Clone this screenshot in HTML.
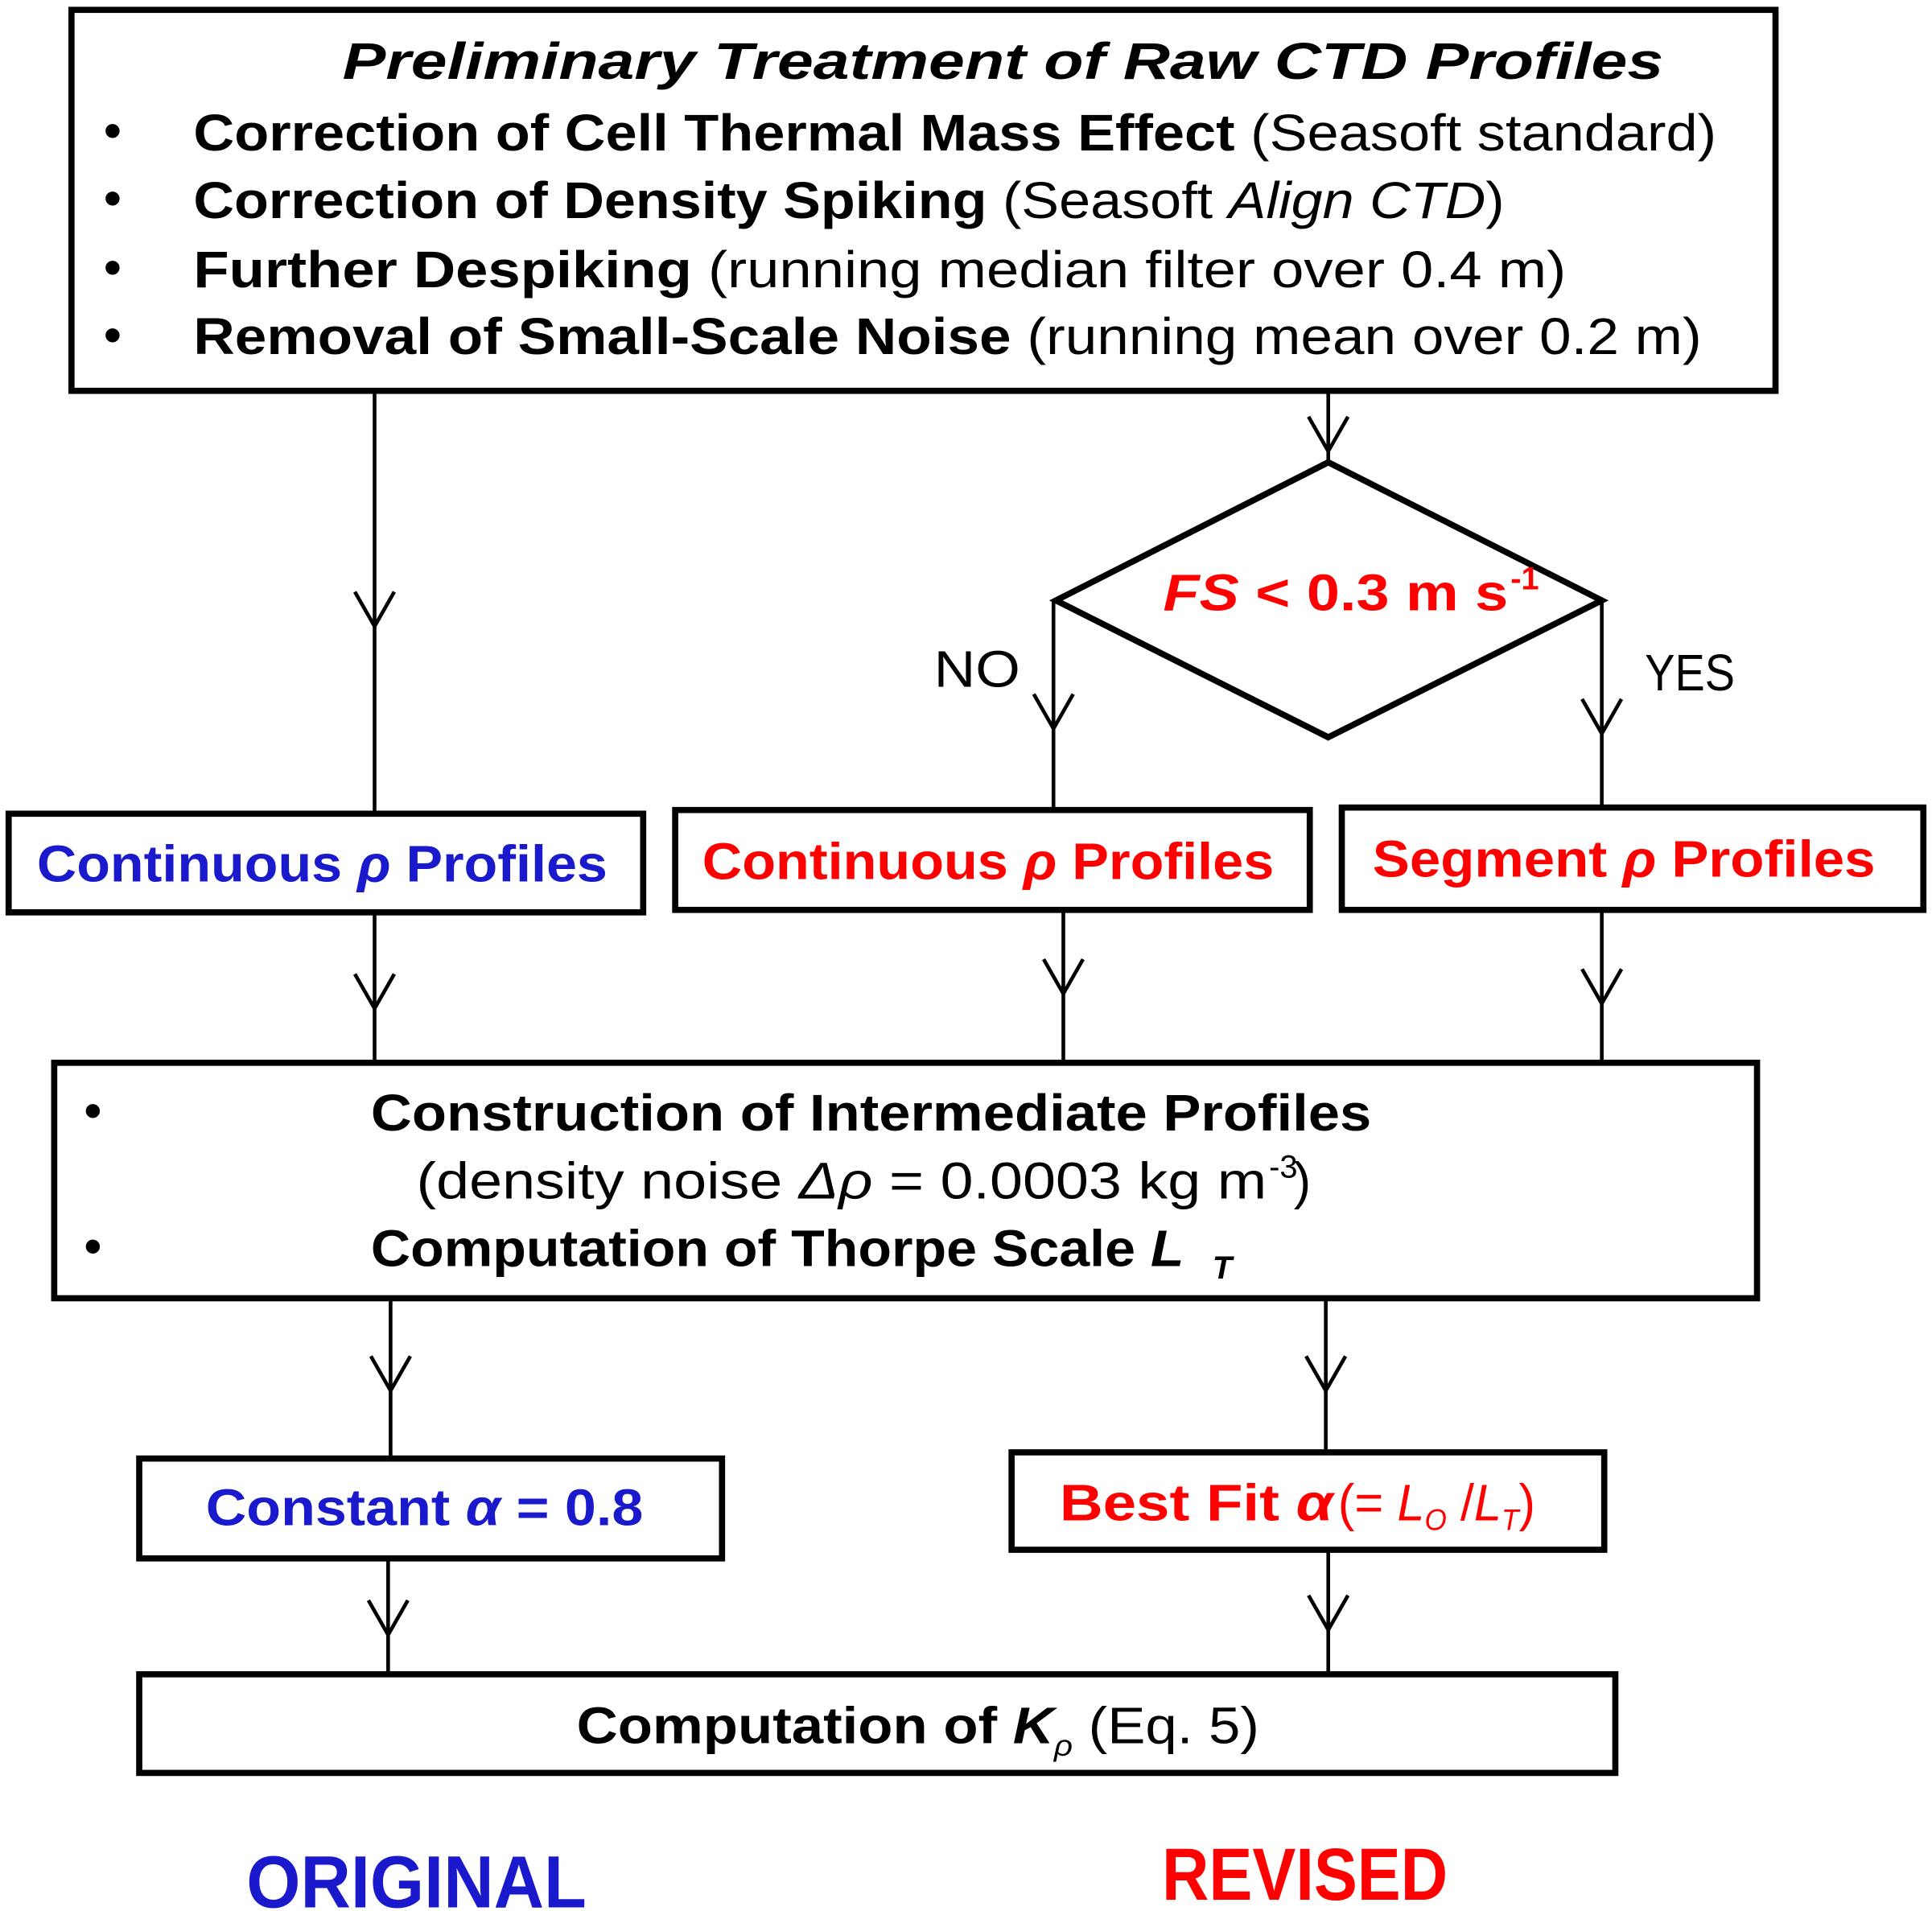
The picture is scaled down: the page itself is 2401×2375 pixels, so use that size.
<!DOCTYPE html>
<html><head><meta charset="utf-8"><style>
html,body{margin:0;padding:0;background:#fff;}
svg{display:block;}
text{font-family:"Liberation Sans",sans-serif;}
</style></head><body>
<svg width="2401" height="2375" viewBox="0 0 1568 1550" preserveAspectRatio="none" xmlns="http://www.w3.org/2000/svg">
<g fill="none" stroke="#000">
<rect x="58" y="8" width="1383" height="309" stroke-width="5"/>
<rect x="7" y="660" width="515" height="80" stroke-width="5"/>
<rect x="548" y="657" width="515" height="81" stroke-width="5"/>
<rect x="1089" y="655" width="472" height="83" stroke-width="5"/>
<rect x="44" y="862" width="1382" height="191" stroke-width="5"/>
<rect x="113" y="1183" width="473" height="81" stroke-width="5"/>
<rect x="821" y="1178" width="481" height="79" stroke-width="5"/>
<rect x="113" y="1358" width="1198" height="80" stroke-width="5"/>
<polygon points="1078,375 1300,487 1078,598 857,487" stroke-width="5"/>
<g stroke-width="3">
<line x1="304" y1="317" x2="304" y2="660"/><polyline points="288,480 304,508 320,480"/>
<line x1="1078" y1="317" x2="1078" y2="375"/><polyline points="1062,338 1078,366 1094,338"/>
<line x1="855" y1="487" x2="855" y2="657"/><polyline points="839,563 855,591 871,563"/>
<line x1="1300" y1="487" x2="1300" y2="655"/><polyline points="1284,567 1300,595 1316,567"/>
<line x1="304" y1="740" x2="304" y2="862"/><polyline points="288,790 304,818 320,790"/>
<line x1="863" y1="738" x2="863" y2="862"/><polyline points="847,778 863,806 879,778"/>
<line x1="1300" y1="738" x2="1300" y2="862"/><polyline points="1284,786 1300,814 1316,786"/>
<line x1="317" y1="1053" x2="317" y2="1183"/><polyline points="301,1100 317,1128 333,1100"/>
<line x1="1076" y1="1053" x2="1076" y2="1178"/><polyline points="1060,1100 1076,1128 1092,1100"/>
<line x1="315" y1="1264" x2="315" y2="1358"/><polyline points="299,1298 315,1326 331,1298"/>
<line x1="1078" y1="1257" x2="1078" y2="1358"/><polyline points="1062,1294 1078,1322 1094,1294"/>
</g>
</g>
<g font-size="42" fill="#000">
<text x="278" y="64" font-style="italic" font-weight="bold" textLength="1072" lengthAdjust="spacingAndGlyphs">Preliminary Treatment of Raw CTD Profiles</text>
<text x="84" y="120">•</text><text x="84" y="175">•</text><text x="84" y="231">•</text><text x="84" y="286">•</text>
<text x="157" y="122" textLength="1236" lengthAdjust="spacingAndGlyphs"><tspan font-weight="bold">Correction of Cell Thermal Mass Effect</tspan> (Seasoft standard)</text>
<text x="157" y="177" textLength="1064" lengthAdjust="spacingAndGlyphs"><tspan font-weight="bold">Correction of Density Spiking</tspan> (Seasoft <tspan font-style="italic">Align CTD</tspan>)</text>
<text x="157" y="233" textLength="1114" lengthAdjust="spacingAndGlyphs"><tspan font-weight="bold">Further Despiking</tspan> (running median filter over 0.4 m)</text>
<text x="157" y="287" textLength="1224" lengthAdjust="spacingAndGlyphs"><tspan font-weight="bold">Removal of Small-Scale Noise</tspan> (running mean over 0.2 m)</text>
<text x="944" y="495" fill="#f00" font-weight="bold" textLength="280" lengthAdjust="spacingAndGlyphs"><tspan font-style="italic">FS</tspan> &lt; 0.3 m s</text>
<text x="1226" y="478" fill="#f00" font-weight="bold" font-size="26">-1</text>
<text x="758" y="557" textLength="70" lengthAdjust="spacingAndGlyphs">NO</text>
<text x="1335" y="560" textLength="73" lengthAdjust="spacingAndGlyphs">YES</text>
<text x="30" y="715" fill="#1a1acc" font-weight="bold" textLength="463" lengthAdjust="spacingAndGlyphs">Continuous <tspan font-style="italic">ρ</tspan> Profiles</text>
<text x="570" y="713" fill="#f00" font-weight="bold" textLength="464" lengthAdjust="spacingAndGlyphs">Continuous <tspan font-style="italic">ρ</tspan> Profiles</text>
<text x="1114" y="711" fill="#f00" font-weight="bold" textLength="408" lengthAdjust="spacingAndGlyphs">Segment <tspan font-style="italic">ρ</tspan> Profiles</text>
<text x="68" y="915">•</text><text x="68" y="1025">•</text>
<text x="301" y="917" font-weight="bold" textLength="812" lengthAdjust="spacingAndGlyphs">Construction of Intermediate Profiles</text>
<text x="338" y="972" textLength="690" lengthAdjust="spacingAndGlyphs">(density noise <tspan font-style="italic">Δρ</tspan> = 0.0003 kg m</text>
<text x="1030" y="955" font-size="26">-3</text><text x="1050" y="972">)</text>
<text x="301" y="1027" font-weight="bold" textLength="660" lengthAdjust="spacingAndGlyphs">Computation of Thorpe Scale <tspan font-style="italic">L</tspan></text>
<text x="984" y="1037" font-size="26" font-style="italic" font-weight="bold">T</text>
<text x="167" y="1237" fill="#1a1acc" font-weight="bold" textLength="355" lengthAdjust="spacingAndGlyphs">Constant <tspan font-style="italic">α</tspan> = 0.8</text>
<text x="860" y="1233" fill="#f00" font-weight="bold" textLength="222" lengthAdjust="spacingAndGlyphs">Best Fit <tspan font-style="italic">α</tspan></text>
<text x="1086" y="1233" fill="#f00" textLength="160" lengthAdjust="spacingAndGlyphs">(= <tspan font-style="italic">L</tspan><tspan font-size="24" dy="8" font-style="italic">O</tspan><tspan dy="-8"> /</tspan><tspan font-style="italic">L</tspan><tspan font-size="24" dy="8" font-style="italic">T</tspan><tspan dy="-8">)</tspan></text>
<text x="468" y="1414" textLength="554" lengthAdjust="spacingAndGlyphs"><tspan font-weight="bold">Computation of </tspan><tspan font-weight="bold" font-style="italic">K</tspan><tspan font-size="24" dy="10" font-style="italic">ρ</tspan><tspan dy="-10"> (Eq. 5)</tspan></text>
<text x="200" y="1547" fill="#1a1acc" font-weight="bold" font-size="60" textLength="276" lengthAdjust="spacingAndGlyphs">ORIGINAL</text>
<text x="943" y="1541" fill="#f00" font-weight="bold" font-size="60" textLength="232" lengthAdjust="spacingAndGlyphs">REVISED</text>
</g>
</svg>
</body></html>
